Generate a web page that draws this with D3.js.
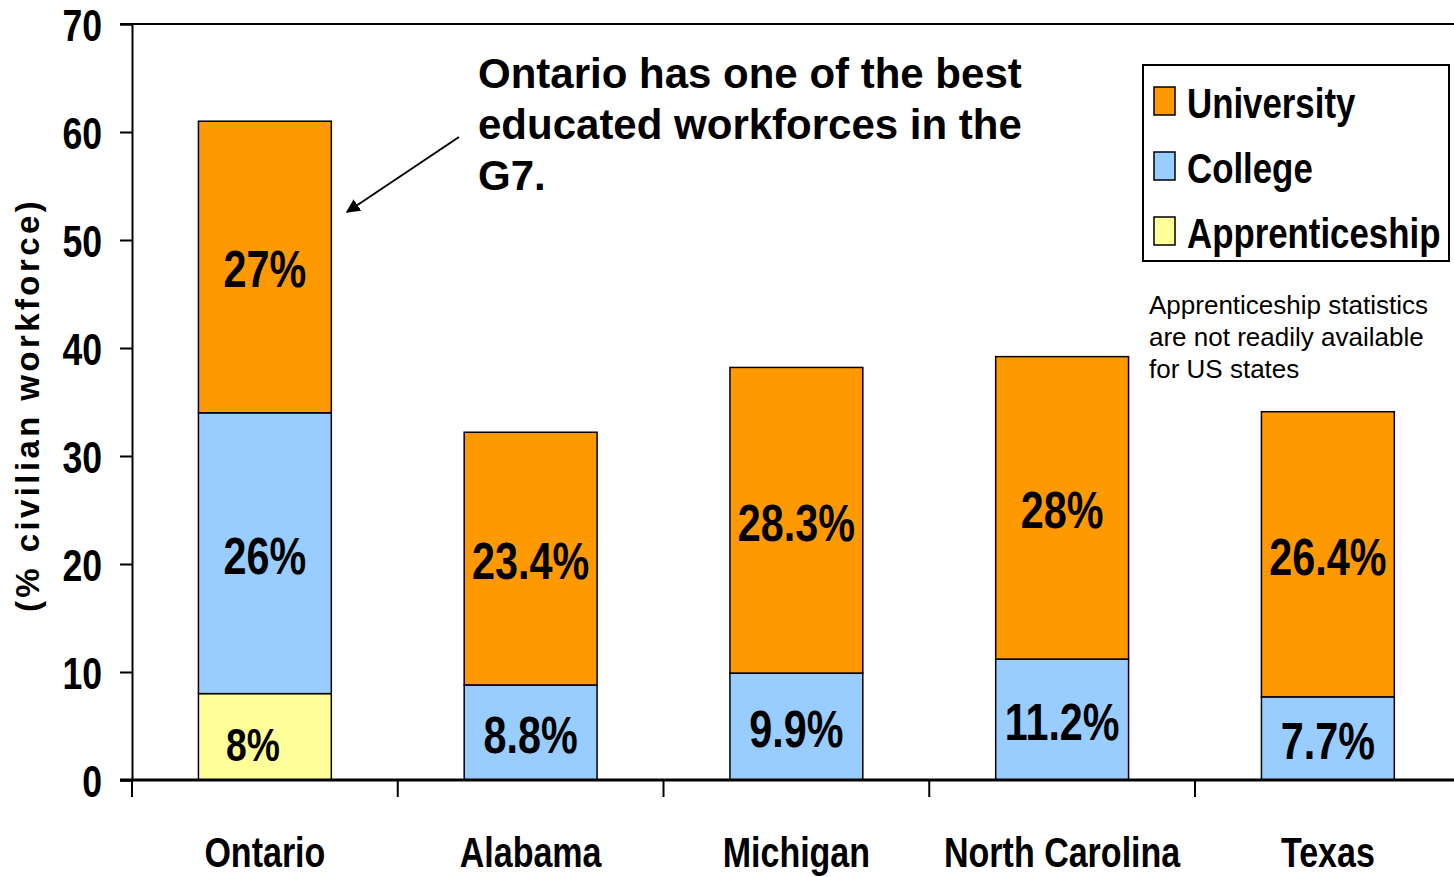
<!DOCTYPE html>
<html>
<head>
<meta charset="utf-8">
<script src="https://cdn.jsdelivr.net/npm/d3@7"></script>
<style>
  body { margin: 0; background: #fff; }
  svg { display: block; }
  text { font-family: "Liberation Sans", Arial, sans-serif; }
  .bold { font-weight: bold; }
</style>
</head>
<body>
<svg id="svg" width="1454" height="877"></svg>
<script>
const regions = ["Ontario", "Alabama", "Michigan", "North Carolina", "Texas"];
const apprenticeship = [8, null, null, null, null];
const college = [26, 8.8, 9.9, 11.2, 7.7];
const university = [27, 23.4, 28.3, 28, 26.4];
const seriesNames = ["University", "College", "Apprenticeship"];
const yTicks = [0, 10, 20, 30, 40, 50, 60, 70];

const colors = { Apprenticeship: "#ffff99", College: "#99ccff", University: "#ff9900" };

const svg = d3.select("#svg");
const plotLeft = 132, plotTop = 24, plotBottom = 780;
const step = 265.75;
const squeeze = 0.81; // Arial Narrow look, made from Liberation Sans Bold

// move x/y into a transform so the glyphs can be squeezed horizontally
function narrow(sel) {
  sel.each(function () {
    const t = d3.select(this);
    const tx = +t.attr("x") || 0, ty = +t.attr("y") || 0;
    t.attr("x", 0).attr("y", 0)
      .attr("transform", `translate(${tx},${ty}) scale(${squeeze},1)`);
  });
}

const x = d3
  .scaleBand()
  .domain(regions)
  .range([plotLeft, plotLeft + step * regions.length])
  .paddingInner(0.5)
  .paddingOuter(0.25);
const y = d3.scaleLinear().domain([0, 70]).range([plotBottom, plotTop]);

const rows = regions.map((r, i) => ({
  region: r,
  Apprenticeship: apprenticeship[i] || 0,
  College: college[i],
  University: university[i],
}));
const stack = d3.stack().keys(["Apprenticeship", "College", "University"]);
const layers = stack(rows);

// top border line
svg.append("line")
  .attr("x1", plotLeft - 12).attr("x2", 1454)
  .attr("y1", y(70)).attr("y2", y(70))
  .attr("stroke", "#000").attr("stroke-width", 2);

// y axis
const yAxis = svg.append("g")
  .attr("transform", `translate(${plotLeft},0)`)
  .call(d3.axisLeft(y).tickValues(yTicks).tickSize(12).tickPadding(18));
yAxis.select(".domain").attr("stroke-width", 2);
yAxis.selectAll(".tick line").attr("stroke-width", 2);
yAxis.selectAll(".tick text")
  .attr("class", "bold")
  .style("font-size", "44px")
  .attr("fill", "#000")
  .attr("dy", "0.38em")
  .call(narrow);

// bars
layers.forEach((layer) => {
  const segs = layer.filter((d) => d[1] - d[0] > 0);
  svg.append("g")
    .selectAll("rect")
    .data(segs)
    .enter()
    .append("rect")
    .attr("x", (d) => x(d.data.region))
    .attr("y", (d) => y(d[1]))
    .attr("width", x.bandwidth())
    .attr("height", (d) => y(d[0]) - y(d[1]))
    .attr("fill", colors[layer.key])
    .attr("stroke", "#000")
    .attr("stroke-width", 1.5);

  svg.append("g")
    .selectAll("text")
    .data(segs)
    .enter()
    .append("text")
    .attr("class", "bold")
    .attr("x", (d) => x(d.data.region) + x.bandwidth() / 2 - (layer.key === "Apprenticeship" ? 12 : 0))
    .attr("y", (d) => y((d[0] + d[1]) / 2) + (layer.key === "Apprenticeship" ? 8 : 2))
    .attr("dy", "0.36em")
    .attr("text-anchor", "middle")
    .style("font-size", layer.key === "Apprenticeship" ? "46px" : "51px")
    .text((d) => d.data[layer.key] + "%")
    .call(narrow);
});

// x axis
const xAxis = svg.append("g")
  .attr("transform", `translate(0,${plotBottom})`);
xAxis.append("line")
  .attr("x1", plotLeft - 12).attr("x2", 1454)
  .attr("stroke", "#000").attr("stroke-width", 3);
const boundaries = d3.range(regions.length).map((i) => plotLeft + i * step);
xAxis.selectAll("line.tick")
  .data(boundaries)
  .enter()
  .append("line")
  .attr("class", "tick")
  .attr("x1", (d) => d).attr("x2", (d) => d)
  .attr("y1", 0).attr("y2", 17)
  .attr("stroke", "#000").attr("stroke-width", 2);
xAxis.selectAll("text")
  .data(regions)
  .enter()
  .append("text")
  .attr("class", "bold")
  .attr("x", (d) => x(d) + x.bandwidth() / 2)
  .attr("y", 87)
  .attr("text-anchor", "middle")
  .style("font-size", "42px")
  .text((d) => d)
  .call(narrow);

// y axis title
svg.append("text")
  .attr("class", "bold")
  .attr("transform", "translate(39,405) rotate(-90)")
  .attr("text-anchor", "middle")
  .style("font-size", "33px")
  .style("letter-spacing", "3.4px")
  .text("(% civilian workforce)");

// annotation
const note = ["Ontario has one of the best", "educated workforces in the", "G7."];
svg.append("g")
  .selectAll("text")
  .data(note)
  .enter()
  .append("text")
  .attr("class", "bold")
  .attr("x", 478)
  .attr("y", (d, i) => 88 + i * 51)
  .style("font-size", "42px")
  .text((d) => d);

svg.append("defs").append("marker")
  .attr("id", "arrow")
  .attr("viewBox", "0 0 10 10")
  .attr("refX", 9).attr("refY", 5)
  .attr("markerWidth", 7).attr("markerHeight", 7)
  .attr("orient", "auto")
  .append("path").attr("d", "M0,0 L10,5 L0,10 z").attr("fill", "#000");
svg.append("line")
  .attr("x1", 459).attr("y1", 137)
  .attr("x2", 347).attr("y2", 212)
  .attr("stroke", "#000").attr("stroke-width", 2)
  .attr("marker-end", "url(#arrow)");

// legend
const legend = svg.append("g").attr("transform", "translate(1143,65)");
legend.append("rect")
  .attr("width", 306).attr("height", 196)
  .attr("fill", "#fff").attr("stroke", "#000").attr("stroke-width", 2);
const item = legend.selectAll("g.item")
  .data(seriesNames)
  .enter()
  .append("g")
  .attr("class", "item")
  .attr("transform", (d, i) => `translate(11,${22 + i * 65})`);
item.append("rect")
  .attr("width", 21).attr("height", 28)
  .attr("fill", (d) => colors[d])
  .attr("stroke", "#000").attr("stroke-width", 1.5);
item.append("text")
  .attr("class", "bold")
  .attr("x", 33).attr("y", 16)
  .attr("dy", "0.36em")
  .style("font-size", "43px")
  .text((d) => d)
  .call(narrow);

// footnote
const foot = ["Apprenticeship statistics", "are not readily available", "for US states"];
svg.append("g")
  .selectAll("text")
  .data(foot)
  .enter()
  .append("text")
  .attr("x", 1149)
  .attr("y", (d, i) => 314 + i * 32)
  .style("font-size", "26px")
  .text((d) => d);
</script>
</body>
</html>
